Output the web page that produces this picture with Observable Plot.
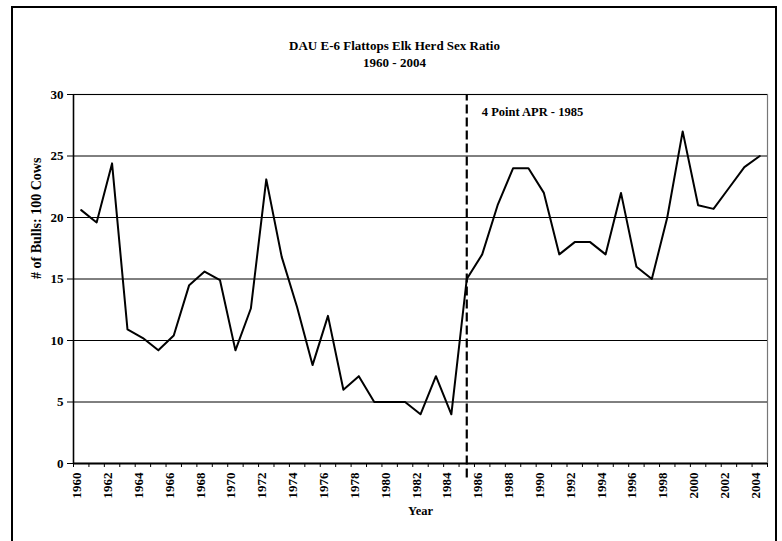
<!DOCTYPE html>
<html>
<head>
<meta charset="utf-8">
<script src="https://cdn.jsdelivr.net/npm/d3@7"></script>
<script src="https://cdn.jsdelivr.net/npm/@observablehq/plot@0.6"></script>
<style>
  html, body { margin: 0; padding: 0; background: #fff; overflow: hidden; width: 782px; height: 541px; }
  #wrap { position: relative; width: 782px; height: 541px; }
  #border { position: absolute; left: 11px; top: 6px; width: 762px; height: 600px; border: 2px solid #000; box-sizing: content-box; }
  #chart { position: absolute; left: 0; top: 0; }
</style>
</head>
<body>
<div id="wrap"><div id="border"></div><div id="chart"></div></div>
<script>
const years = [1960,1961,1962,1963,1964,1965,1966,1967,1968,1969,1970,1971,1972,1973,1974,1975,1976,1977,1978,1979,1980,1981,1982,1983,1984,1985,1986,1987,1988,1989,1990,1991,1992,1993,1994,1995,1996,1997,1998,1999,2000,2001,2002,2003,2004];
const ratios = [20.6,19.6,24.4,10.9,10.2,9.2,10.4,14.5,15.6,14.9,9.2,12.6,23.1,16.8,12.7,8.0,12.0,6.0,7.1,5.0,5.0,5.0,4.0,7.1,4.0,15.0,17.0,21.0,24.0,24.0,22.0,17.0,18.0,18.0,17.0,22.0,16.0,15.0,20.0,27.0,21.0,20.7,22.4,24.1,25.0];
const yTicks = [0,5,10,15,20,25,30];
const xLabelYears = [1960,1962,1964,1966,1968,1970,1972,1974,1976,1978,1980,1982,1984,1986,1988,1990,1992,1994,1996,1998,2000,2002,2004];
const apprYear = 1985;
const titleLines = ["DAU E-6 Flattops Elk Herd Sex Ratio", "1960 - 2004"];
const annotation = "4 Point APR - 1985";

const data = years.map((y, i) => ({year: y, ratio: ratios[i]}));
const tickEdges = years.map(y => y - 0.5).concat([years[years.length - 1] + 0.5]);
const font = "'Liberation Serif', 'Times New Roman', serif";

const chart = Plot.plot({
  width: 782,
  height: 541,
  marginLeft: 73,
  marginRight: 15,
  marginTop: 94,
  marginBottom: 78,
  style: {fontFamily: font, background: "transparent", overflow: "visible"},
  x: {type: "linear", domain: [years[0] - 0.5, years[years.length - 1] + 0.5]},
  y: {domain: [0, 30]},
  marks: [
    Plot.frame({stroke: "#777", strokeWidth: 1.2}),
    Plot.gridY(yTicks.filter(d => d > 0), {stroke: "#000", strokeOpacity: 1, strokeWidth: 1}),
    Plot.axisY(yTicks, {tickSize: 6, tickPadding: 4, fontSize: 13, fontWeight: "bold", stroke: "#000", label: null}),
    Plot.axisX(tickEdges, {tickSize: 4, tickFormat: () => "", stroke: "#000", label: null}),
    Plot.ruleX([years[0] - 0.5], {stroke: "#000", strokeWidth: 1.5}),
    Plot.ruleY([0], {stroke: "#000", strokeWidth: 2}),
    Plot.text(xLabelYears, {x: d => d, text: d => String(d), frameAnchor: "bottom", dy: 9, rotate: -90, textAnchor: "end", fontSize: 13, fontWeight: "bold", fill: "#000"}),
    Plot.line(data, {x: "year", y: "ratio", stroke: "#000", strokeWidth: 2}),
    Plot.ruleX([apprYear], {y1: -1.17, y2: 30, stroke: "#000", strokeWidth: 2.2, strokeDasharray: "9,4"}),
    Plot.text([annotation], {x: apprYear, y: 30, dx: 15, dy: 17, textAnchor: "start", fontSize: 12.5, fontWeight: "bold", fill: "#000"}),
    Plot.text([titleLines[0]], {frameAnchor: "top", dx: -26, dy: -54, fontSize: 13, fontWeight: "bold", fill: "#000"}),
    Plot.text([titleLines[1]], {frameAnchor: "top", dx: -26, dy: -37, fontSize: 13, fontWeight: "bold", fill: "#000"}),
    Plot.text(["# of Bulls: 100 Cows"], {frameAnchor: "left", dx: -37, rotate: -90, fontSize: 14, fontWeight: "bold", fill: "#000"}),
    Plot.text(["Year"], {frameAnchor: "bottom", dy: 51, fontSize: 12.5, fontWeight: "bold", fill: "#000"})
  ]
});
document.getElementById("chart").appendChild(chart);
</script>
</body>
</html>
